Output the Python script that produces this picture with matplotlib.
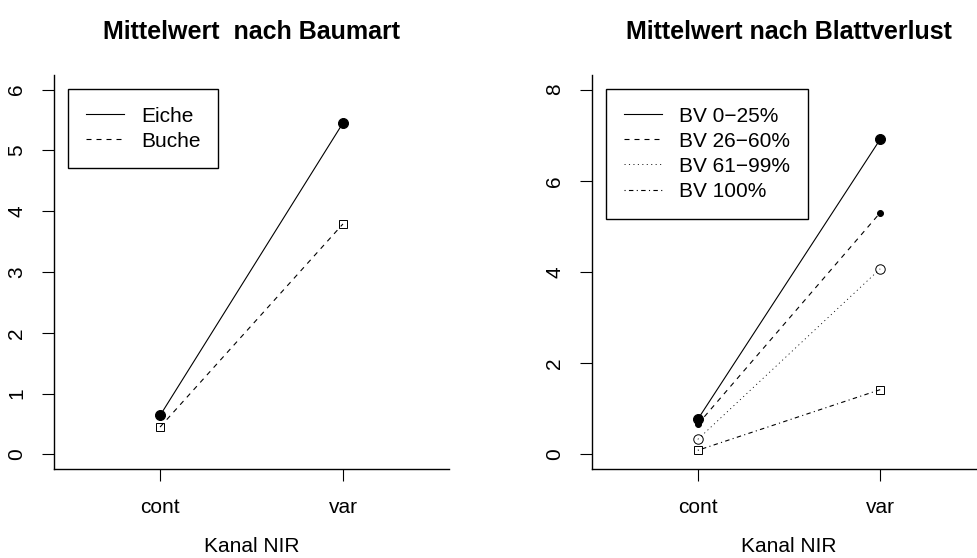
import matplotlib
matplotlib.use("Agg")
import matplotlib.pyplot as plt
from matplotlib.lines import Line2D

plt.rcParams["font.family"] = ["Liberation Sans", "DejaVu Sans"]
plt.rcParams["lines.scale_dashes"] = False

# Data
kanal_levels = ["cont", "var"]

baumart_names = ["Eiche", "Buche"]
eiche_means = [0.64, 5.45]
buche_means = [0.45, 3.79]

blattverlust_names = ["BV 0\u221225%", "BV 26\u221260%", "BV 61\u221299%", "BV 100%"]
bv_0_25 = [0.77, 6.91]
bv_26_60 = [0.66, 5.30]
bv_61_99 = [0.33, 4.07]
bv_100 = [0.09, 1.42]

left_yticks = [0, 1, 2, 3, 4, 5, 6]
right_yticks = [0, 2, 4, 6, 8]

# R-like line types (in points)
LTY = {
    1: "-",
    2: (0, (3.6, 3.6)),
    3: (0, (0.8, 2.4)),
    4: (0, (0.8, 2.4, 3.2, 2.4)),
}

W, H = 977, 558
fig = plt.figure(figsize=(W / 100, H / 100), dpi=100)

ax_l = fig.add_axes([54 / W, 1 - 469 / H, 395 / W, 394 / H])
ax_r = fig.add_axes([592 / W, 1 - 469 / H, 394 / W, 394 / H])

FS = 15
LW = 0.8
x = [1, 2]


def style_axes(ax, ylim, yticks, title):
    ax.set_xlim(0.42, 2.58)
    ax.set_ylim(*ylim)
    for side in ("top", "right"):
        ax.spines[side].set_visible(False)
    for side in ("left", "bottom"):
        ax.spines[side].set_linewidth(1.0)
    ax.set_xticks(x)
    ax.set_xticklabels(kanal_levels)
    ax.set_yticks(yticks)
    ax.set_yticklabels([str(t) for t in yticks])
    ax.tick_params(axis="both", direction="out", length=8.6, width=0.8,
                   labelsize=FS, color="black")
    ax.tick_params(axis="x", pad=12.6)
    ax.tick_params(axis="y", pad=11.5, labelrotation=90)
    for lab in ax.get_yticklabels():
        lab.set_verticalalignment("center")
    ax.set_title(title, fontsize=18, fontweight="bold", pad=26)
    ax.set_xlabel("Kanal NIR", fontsize=FS)
    ax.xaxis.set_label_coords(0.5, -0.172)


def add_legend(ax, handles, names, x0):
    leg = ax.legend(handles, names, loc="upper left",
                    bbox_to_anchor=(x0, 0.9645), borderaxespad=0,
                    fontsize=FS, fancybox=False, framealpha=1,
                    edgecolor="black", handlelength=1.85, handletextpad=0.8,
                    labelspacing=0.29, borderpad=0.85)
    leg.get_frame().set_linewidth(1.0)


# Left panel: tree species
style_axes(ax_l, (-0.24, 6.24), left_yticks, "Mittelwert  nach Baumart")
ax_l.plot(x, eiche_means, color="black", lw=LW, ls=LTY[1],
          marker="o", ms=7.2, mfc="black", mec="black", mew=0.7)
ax_l.plot(x, buche_means, color="black", lw=LW, ls=LTY[2],
          marker="s", ms=5.4, mfc="none", mec="black", mew=0.7)
handles_l = [Line2D([], [], color="black", lw=LW, ls=LTY[i]) for i in (1, 2)]
add_legend(ax_l, handles_l, baumart_names, (68 - 54) / 395)

# Right panel: leaf loss classes
style_axes(ax_r, (-0.32, 8.32), right_yticks, "Mittelwert nach Blattverlust")
ax_r.plot(x, bv_0_25, color="black", lw=LW, ls=LTY[1],
          marker="o", ms=7.2, mfc="black", mec="black", mew=0.7)
ax_r.plot(x, bv_26_60, color="black", lw=LW, ls=LTY[2],
          marker="o", ms=4.3, mfc="black", mec="black", mew=0.7)
ax_r.plot(x, bv_61_99, color="black", lw=0.6, ls=LTY[3],
          marker="o", ms=6.8, mfc="none", mec="black", mew=0.7)
ax_r.plot(x, bv_100, color="black", lw=LW, ls=LTY[4],
          marker="s", ms=5.6, mfc="none", mec="black", mew=0.7)
handles_r = [Line2D([], [], color="black", lw=(0.6 if i == 3 else LW), ls=LTY[i])
             for i in (1, 2, 3, 4)]
add_legend(ax_r, handles_r, blattverlust_names, (606 - 592) / 394)

fig.savefig("out.png", dpi=100)
